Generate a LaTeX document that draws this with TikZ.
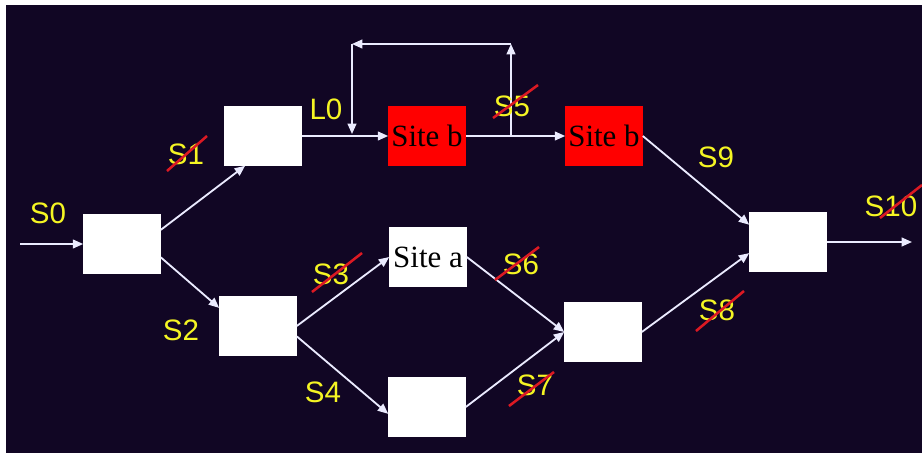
\documentclass[tikz,border=0pt]{standalone}
\usepackage{fontspec}
\setmainfont{Liberation Serif}
\newfontfamily\labelfont{Liberation Sans}
\usetikzlibrary{arrows.meta}
\definecolor{slidenavy}{RGB}{17,6,36}
\definecolor{slideyellow}{RGB}{245,245,35}
\definecolor{sitered}{RGB}{255,0,0}
\definecolor{strikered}{RGB}{220,25,35}

\begin{document}
\begin{tikzpicture}[x=0.025cm, y=-0.025cm,
  taskbox/.style={fill=white, minimum width=1.925cm, minimum height=1.475cm, inner sep=0pt, font=\fontsize{22}{26}\selectfont},
  sitebox/.style={taskbox, fill=sitered},
  flow/.style={draw=white!92!blue, line width=1.3pt, -{Triangle[length=2.6mm, width=2.2mm]}},
  slabel/.style={text=slideyellow, inner sep=0pt, font=\labelfont\fontsize{21}{25}\selectfont},
  strike/.style={draw=strikered, line width=1.8pt}]
% Background
\useasboundingbox (0,0) rectangle (922,453);
\fill[slidenavy] (6,5) rectangle (922,453);
% Tasks
\node[taskbox] (split) at (122,244) {};
\node[taskbox] (upper) at (263,136) {};
\node[sitebox] (siteb1) at (427,136) {Site b};
\node[sitebox] (siteb2) at (604,136) {Site b};
\node[taskbox] (join) at (788,242) {};
\node[taskbox] (lower) at (258,326) {};
\node[taskbox] (sitea) at (428,257) {Site a};
\node[taskbox] (bottom) at (427,407) {};
\node[taskbox] (merge) at (603,332) {};
% Loose ends
\coordinate (src) at (20,244);
\coordinate (sink) at (912,242);
\coordinate (fbfrom) at (511,136);
\coordinate (fbtopR) at (511,44);
\coordinate (fbtopL) at (352,44);
\coordinate (fbto) at (352,134);
% Arrows
\draw[flow] (src) -- (split.west);
\draw[flow] (split.20) -- (upper.239);
\draw[flow] (split.-19) -- (lower.155);
\draw[flow] (upper.east) -- (siteb1.west);
\draw[flow] (siteb1.east) -- (siteb2.west);
\draw[flow] (fbfrom) -- (fbtopR);
\draw[flow] (fbtopR) -- (fbtopL);
\draw[flow] (fbtopL) -- (fbto);
\draw[flow] (siteb2.east) -- (join.156);
\draw[flow] (lower.east) -- (sitea.west);
\draw[flow] (lower.-15) -- (bottom.190);
\draw[flow] (sitea.east) -- (merge.west);
\draw[flow] (bottom.east) -- (merge.west);
\draw[flow] (merge.east) -- (join.196);
\draw[flow] (join.east) -- (sink);
% Labels
\node[slabel] (s0) at (48,213) {S0};
\node[slabel] (s1) at (186,154) {S1};
\node[slabel] (l0) at (326,109) {L0};
\node[slabel] (s2) at (181,330) {S2};
\node[slabel] (s3) at (331,274) {S3};
\node[slabel] (s4) at (323,392) {S4};
\node[slabel] (s5) at (512,106) {S5};
\node[slabel] (s6) at (521,264) {S6};
\node[slabel] (s7) at (535,385) {S7};
\node[slabel] (s8) at (717,310) {S8};
\node[slabel] (s9) at (716,157) {S9};
\node[slabel] (s10) at (891,206) {S10};
% Crossed out
\draw[strike] (167,171) -- (207,136);
\draw[strike] (493,118) -- (538,85);
\draw[strike] (312,292) -- (362,253);
\draw[strike] (495,280) -- (539,247);
\draw[strike] (509,406) -- (554,372);
\draw[strike] (696,331) -- (744,291);
\draw[strike] (880,218) -- (922,185);
\end{tikzpicture}
\end{document}
